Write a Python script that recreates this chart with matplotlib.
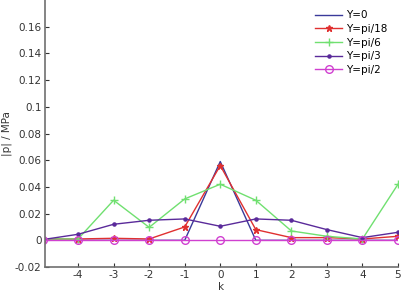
import matplotlib
matplotlib.use("Agg")
import matplotlib.pyplot as plt

plt.rcParams["axes.unicode_minus"] = False

k = [-5, -4, -3, -2, -1, 0, 1, 2, 3, 4, 5]
p_y0 = [0.0, 0.0, 0.0, 0.0, 0.0, 0.059, 0.0, 0.0, 0.0, 0.0, 0.0]
p_pi18 = [0.001, 0.001, 0.0015, 0.001, 0.010, 0.056, 0.008, 0.002, 0.002, 0.001, 0.003]
p_pi6 = [0.001, 0.001, 0.030, 0.0097, 0.031, 0.042, 0.030, 0.007, 0.003, 0.001, 0.042]
p_pi3 = [0.0005, 0.0045, 0.012, 0.015, 0.016, 0.0105, 0.016, 0.015, 0.008, 0.002, 0.006]
p_pi2 = [0.0, 0.0, 0.0, 0.0, 0.0, 0.0, 0.0, 0.0, 0.0, 0.0, 0.0]
labels = ["Y=0", "Y=pi/18", "Y=pi/6", "Y=pi/3", "Y=pi/2"]
yticks = [-0.02, 0, 0.02, 0.04, 0.06, 0.08, 0.1, 0.12, 0.14, 0.16]
yticklabels = ["-0.02", "0", "0.02", "0.04", "0.06", "0.08", "0.1", "0.12", "0.14", "0.16"]
xticks = [-4, -3, -2, -1, 0, 1, 2, 3, 4, 5]

fig = plt.figure(figsize=(4.02, 2.96), dpi=100)
ax = fig.add_axes([45 / 402, 29 / 296, 353 / 402, 267 / 296])

ax.plot(k, p_y0, color="#3a3a9a", lw=1.0, label=labels[0])
ax.plot(k, p_pi18, color="#e03030", lw=1.0, marker="*", ms=4.5, label=labels[1])
ax.plot(k, p_pi6, color="#70e070", lw=1.0, marker="+", ms=6, label=labels[2])
ax.plot(k, p_pi3, color="#5a2a9a", lw=1.0, marker=".", ms=4.5, label=labels[3])
ax.plot(k, p_pi2, color="#d040d0", lw=1.0, marker="o", ms=5.5, mfc="none", label=labels[4])

ax.set_xlim(-4.93, 5)
ax.set_ylim(-0.02, 0.18)
ax.set_xticks(xticks)
ax.set_yticks(yticks)
ax.set_yticklabels(yticklabels)
ax.tick_params(direction="in", length=3, labelsize=7.5, colors="#333333", pad=2.5)
for s in ["top", "right"]:
    ax.spines[s].set_visible(False)
for s in ["left", "bottom"]:
    ax.spines[s].set_color("#707070")
    ax.spines[s].set_linewidth(1.2)

ax.set_xlabel("k", fontsize=7.5, color="#333333", labelpad=1)
ax.set_ylabel("|p| / MPa", fontsize=7.5, color="#333333", labelpad=2)

ax.legend(loc="upper right", bbox_to_anchor=(1.0, 1.0), frameon=False, fontsize=7.5,
          handlelength=2.6, labelspacing=0.35, borderaxespad=0.6, handletextpad=0.4)

fig.savefig("out.png", dpi=100)
